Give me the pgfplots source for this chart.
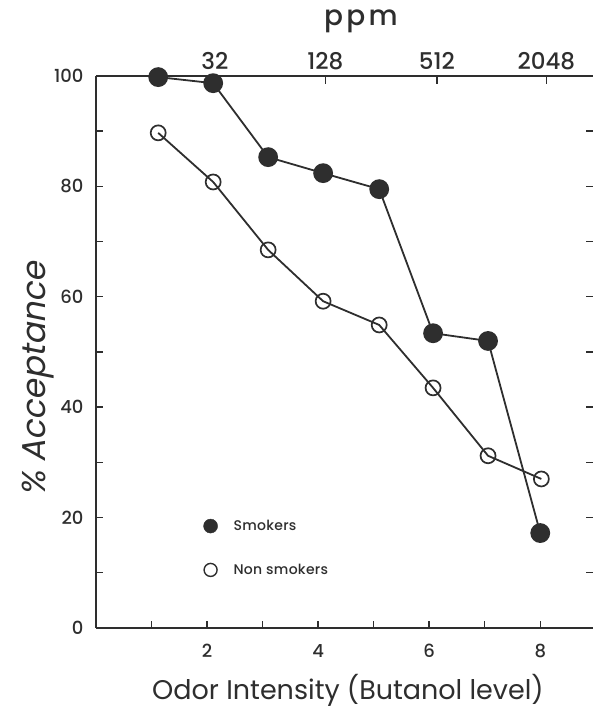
\documentclass[border=0pt]{standalone}
\usepackage{fontspec}
\setmainfont{Poppins}[UprightFont={* Medium}]
\newfontfamily\regfont{Poppins}
\newfontfamily\slfont{Poppins}[FakeSlant=0.2]
\usepackage{pgfplots}
\pgfplotsset{compat=1.18}
\definecolor{ink}{HTML}{2E2E2E}

\begin{document}
\begin{tikzpicture}[x=1pt,y=1pt]
% main axis
\begin{axis}[
  at={(96pt,79pt)}, anchor=south west,
  scale only axis, width=497pt, height=552pt,
  xmin=0, xmax=8.95, ymin=0, ymax=100,
  axis x line*=bottom, axis y line*=left,
  axis line style={ink, line width=1.6pt, -},
  xtick={2,4,6,8}, minor xtick={1,3,5,7},
  ytick={0,20,...,100}, minor ytick={10,30,50,70,90},
  tick align=inside, major tick length=7pt, minor tick length=7pt,
  every tick/.style={ink, line width=1.4pt},
  tick label style={font=\fontsize{18}{18}\selectfont, text=ink},
  /pgf/number format/assume math mode=true,
  yticklabel style={xshift=-9pt},
  xticklabel style={yshift=-13pt},
  xlabel={Odor Intensity (Butanol level)},
  ylabel={\slfont\% Acceptance},
  xlabel style={font=\regfont\fontsize{27}{27}\selectfont, text=ink,
    at={([yshift=-71pt]axis description cs:0.507,0)}, anchor=base},
  ylabel style={font=\fontsize{33}{33}\selectfont, text=ink,
    at={([xshift=-50pt]axis description cs:0,0.451)}, anchor=base, rotate=0},
  clip=false,
  legend style={at={(axis cs:1.88,20.3)}, anchor=north west, draw=none, fill=none,
    font=\fontsize{14}{14}\selectfont\addfontfeature{LetterSpace=2}, text=ink, row sep=28pt,
    /tikz/every odd column/.append style={column sep=14pt}},
  legend cell align=left,
]
\addlegendimage{only marks, mark=*, mark size=7pt, ink, mark options={fill=ink}}
\addlegendentry{Smokers}
\addlegendimage{only marks, mark=o, mark size=6.5pt, ink, line width=1.4pt}
\addlegendentry{Non smokers}

\addplot[ink, line width=1.8pt, mark=o, mark size=7.5pt,
  mark options={fill=white, line width=1.7pt}, forget plot] coordinates {
  (1.12,89.7) (2.11,80.8) (3.10,68.5) (4.09,59.2) (5.10,54.9) (6.07,43.5) (7.06,31.2) (8.02,27.0)
};
\addplot[ink, line width=1.8pt, mark=*, mark size=9pt,
  mark options={fill=ink}, forget plot] coordinates {
  (1.12,99.8) (2.11,98.7) (3.10,85.3) (4.09,82.4) (5.10,79.5) (6.07,53.4) (7.06,52.0) (8.00,17.2)
};
\end{axis}

% top ppm axis
\begin{axis}[
  at={(96pt,79pt)}, anchor=south west,
  scale only axis, width=497pt, height=552pt,
  xmin=0, xmax=8.95, ymin=0, ymax=100,
  axis x line*=top, axis y line=none,
  axis line style={ink, line width=1.6pt, -},
  xtick={2.14,4.13,6.14,8.11}, xticklabels={32,128,512,2048},
  tick align=inside, major tick length=8pt,
  every tick/.style={ink, line width=1.4pt},
  tick label style={font=\fontsize{23}{23}\selectfont, text=ink},
  xticklabel style={yshift=3pt},
  xlabel={ppm},
  xlabel style={font=\fontsize{28}{28}\selectfont\addfontfeature{LetterSpace=12}, text=ink,
    at={([yshift=50pt]axis description cs:0.533,1)}, anchor=base},
]
\addplot[draw=none, forget plot] coordinates {(0,0)};
\end{axis}

% right ticks without line
\begin{axis}[
  at={(96pt,79pt)}, anchor=south west,
  scale only axis, width=497pt, height=552pt,
  xmin=0, xmax=8.95, ymin=0, ymax=100,
  axis y line*=right, axis x line=none,
  y axis line style={draw=none},
  ytick={10,20,...,90}, yticklabels={},
  tick align=inside, major tick length=7pt,
  every tick/.style={ink, line width=1.4pt},
]
\addplot[draw=none, forget plot] coordinates {(0,0)};
\end{axis}

\pgfresetboundingbox
\path (0,0) rectangle (593,707);
\end{tikzpicture}
\end{document}
